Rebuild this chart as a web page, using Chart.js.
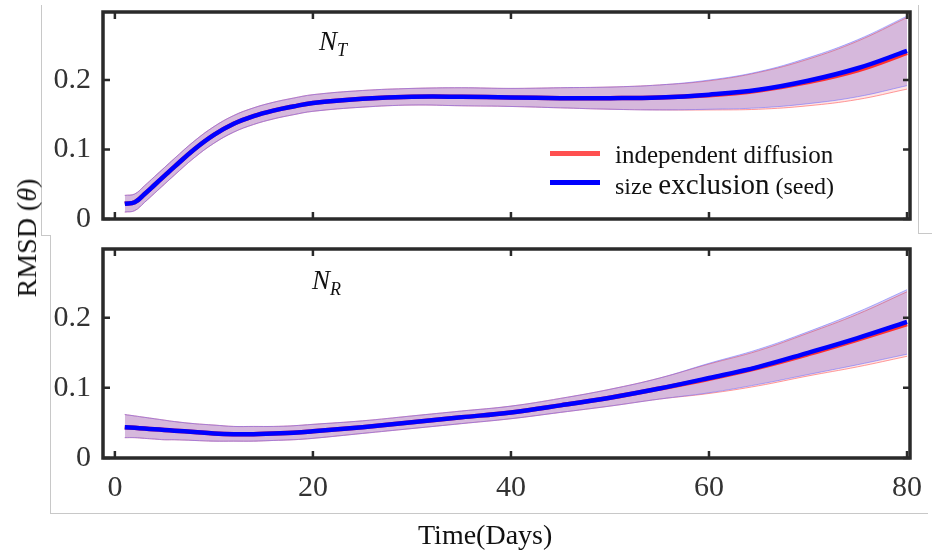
<!DOCTYPE html>
<html><head><meta charset="utf-8">
<script src="https://cdn.jsdelivr.net/npm/chart.js@4.4.1/dist/chart.umd.min.js"></script>
<style>
body{margin:0;background:#fff;width:932px;height:559px;overflow:hidden;position:relative;font-family:"Liberation Serif","Times New Roman",serif;color:#111;}
canvas{position:absolute;left:0;}
.gl{position:absolute;background:#c8c8c8;}
.txt{position:absolute;white-space:nowrap;}
.ann{position:absolute;font-style:italic;font-size:27px;line-height:27px;white-space:nowrap;}
.ann sub{font-size:18px;vertical-align:-6px;}
.sw{position:absolute;width:50px;height:5px;}
</style></head><body>
<div class="gl" style="left:41px;top:5px;width:1px;height:230px"></div>
<div class="gl" style="left:41px;top:235px;width:10px;height:1px"></div>
<div class="gl" style="left:50px;top:235px;width:1px;height:278px"></div>
<div class="gl" style="left:50px;top:513px;width:878px;height:1px"></div>
<div class="gl" style="left:918px;top:5px;width:1px;height:228px"></div>
<div class="gl" style="left:918px;top:233px;width:14px;height:1px"></div>

<canvas id="top" width="932" height="240" style="top:0"></canvas>
<canvas id="bot" width="932" height="300" style="top:230px"></canvas>

<div class="ann" style="left:319px;top:28px">N<sub>T</sub></div>
<div class="ann" style="left:312px;top:267px">N<sub>R</sub></div>

<div class="sw" style="left:550px;top:151px;background:#ff5050"></div>
<div class="sw" style="left:550px;top:180px;background:#0000ff"></div>
<div class="txt" style="left:615px;top:142px;font-size:25px;line-height:25px">independent diffusion</div>
<div class="txt" style="left:615px;top:170px;font-size:24px;line-height:29px">size <span style="font-size:29px">exclusion</span> (seed)</div>

<div class="txt" style="left:418px;top:521px;font-size:28px;line-height:28px">Time(Days)</div>
<div class="txt" style="left:27px;top:238px;font-size:28px;line-height:28px;transform:translate(-50%,-50%) rotate(-90deg);">RMSD (<i>θ</i>)</div>

<script>
const days = [1,2,3,4,5,6,8,10,12,14,16,18,20,25,30,35,40,45,50,55,60,65,70,75,80];
const xTicks = [0,20,40,60,80];
const yTicks = [0,0.1,0.2];

// N_T panel
const ntSizeMean  = [0.022,0.024,0.036,0.049,0.062,0.075,0.100,0.121,0.137,0.148,0.156,0.162,0.167,0.173,0.176,0.176,0.175,0.174,0.174,0.175,0.179,0.186,0.199,0.217,0.242];
const ntSizeUpper = [0.034,0.036,0.048,0.061,0.074,0.087,0.112,0.133,0.149,0.160,0.168,0.174,0.179,0.185,0.188,0.189,0.188,0.189,0.190,0.193,0.200,0.212,0.232,0.258,0.292];
const ntSizeLower = [0.010,0.012,0.024,0.037,0.050,0.063,0.088,0.109,0.125,0.136,0.144,0.150,0.155,0.161,0.164,0.163,0.162,0.160,0.158,0.157,0.158,0.160,0.166,0.176,0.192];
const ntIndMean   = [0.022,0.024,0.036,0.049,0.062,0.075,0.100,0.121,0.137,0.148,0.156,0.162,0.167,0.173,0.176,0.176,0.175,0.174,0.174,0.175,0.178,0.185,0.197,0.214,0.239];
const ntIndUpper  = [0.034,0.036,0.048,0.061,0.074,0.087,0.112,0.133,0.149,0.160,0.168,0.174,0.179,0.185,0.188,0.189,0.188,0.189,0.190,0.193,0.199,0.211,0.230,0.256,0.290];
const ntIndLower  = [0.010,0.012,0.024,0.037,0.050,0.063,0.088,0.109,0.125,0.136,0.144,0.150,0.155,0.161,0.164,0.163,0.162,0.160,0.158,0.157,0.157,0.158,0.163,0.172,0.187];

// N_R panel
const nrSizeMean  = [0.044,0.043,0.042,0.041,0.040,0.039,0.037,0.035,0.034,0.034,0.035,0.036,0.038,0.044,0.051,0.058,0.065,0.075,0.086,0.099,0.114,0.130,0.150,0.171,0.194];
const nrSizeUpper = [0.062,0.060,0.058,0.056,0.054,0.052,0.049,0.047,0.045,0.045,0.045,0.046,0.048,0.053,0.060,0.067,0.074,0.085,0.098,0.114,0.135,0.155,0.180,0.208,0.240];
const nrSizeLower = [0.029,0.029,0.028,0.027,0.026,0.026,0.025,0.024,0.024,0.024,0.025,0.026,0.028,0.035,0.042,0.049,0.056,0.065,0.074,0.084,0.093,0.105,0.119,0.133,0.148];
const nrIndMean   = [0.044,0.043,0.042,0.041,0.040,0.039,0.037,0.035,0.034,0.034,0.035,0.036,0.038,0.044,0.051,0.058,0.065,0.075,0.086,0.099,0.113,0.129,0.148,0.169,0.191];
const nrIndUpper  = [0.062,0.060,0.058,0.056,0.054,0.052,0.049,0.047,0.045,0.045,0.045,0.046,0.048,0.053,0.060,0.067,0.074,0.085,0.098,0.114,0.134,0.153,0.178,0.205,0.237];
const nrIndLower  = [0.029,0.029,0.028,0.027,0.026,0.026,0.025,0.024,0.024,0.024,0.025,0.026,0.028,0.035,0.042,0.049,0.056,0.065,0.074,0.084,0.092,0.103,0.117,0.130,0.145];

const pts = arr => arr.map((v,i)=>({x:days[i], y:v}));
const FONT = '"Liberation Serif","Times New Roman",serif';

const framePlugin = {
  id:'frame',
  afterDatasetsDraw(chart){
    const {ctx, chartArea:a, scales:{x,y}} = chart;
    ctx.save();
    ctx.strokeStyle = '#2a2a2a';
    ctx.lineWidth = 2.5;
    const L = 7;
    ctx.beginPath();
    xTicks.forEach(v=>{
      const px = x.getPixelForValue(v);
      ctx.moveTo(px, a.bottom); ctx.lineTo(px, a.bottom - L);
      ctx.moveTo(px, a.top); ctx.lineTo(px, a.top + L);
    });
    yTicks.forEach(v=>{
      const py = y.getPixelForValue(v);
      ctx.moveTo(a.left, py); ctx.lineTo(a.left + L, py);
      ctx.moveTo(a.right, py); ctx.lineTo(a.right - L, py);
    });
    ctx.stroke();
    ctx.lineWidth = 3.5;
    ctx.strokeRect(a.left, a.top, a.right - a.left, a.bottom - a.top);
    ctx.restore();
  }
};

function makeChart(id, d, showX, padTop, padBottom, xHeight) {
  const datasets = [
    {data:pts(d.sMean), borderColor:'#0000ff', borderWidth:4.5, order:0, fill:false},
    {data:pts(d.iMean), borderColor:'#ff3030', borderWidth:4.5, order:1, fill:false},
    {data:pts(d.iLow), borderColor:'rgba(255,110,110,0.7)', borderWidth:1, order:4, fill:false},
    {data:pts(d.iUp), borderColor:'rgba(255,110,110,0.7)', borderWidth:1, order:4, fill:'-1', backgroundColor:'rgba(255,80,80,0.15)'},
    {data:pts(d.sLow), borderColor:'rgba(110,110,255,0.55)', borderWidth:1, order:3, fill:false},
    {data:pts(d.sUp), borderColor:'rgba(110,110,255,0.55)', borderWidth:1, order:3, fill:'-1', backgroundColor:'rgba(120,80,200,0.30)'}
  ];
  return new Chart(document.getElementById(id), {
    type:'line',
    data:{datasets},
    options:{
      responsive:false, animation:false, devicePixelRatio:1,
      layout:{padding:{top:padTop, right:22, bottom:padBottom, left:0}},
      plugins:{legend:{display:false}, tooltip:{enabled:false}},
      elements:{point:{radius:0}, line:{tension:0.4}},
      scales:{
        x:{type:'linear', min:-1.2, max:80.3, display:showX,
           grid:{display:false, drawTicks:false}, border:{display:false},
           ticks:{font:{family:FONT, size:30}, color:'#333', padding:12, maxRotation:0, callback:v=>String(v)},
           afterBuildTicks:s=>{s.ticks = xTicks.map(v=>({value:v}));},
           afterFit:s=>{ if(xHeight) s.height = xHeight; s.paddingLeft=0; s.paddingRight=0; s.paddingTop=0; s.paddingBottom=0; }
        },
        y:{min:0, max:0.298,
           grid:{display:false, drawTicks:false}, border:{display:false},
           ticks:{font:{family:FONT, size:30}, color:'#333', padding:12, callback:v=>String(v)},
           afterBuildTicks:s=>{s.ticks = yTicks.map(v=>({value:v}));},
           afterFit:s=>{ s.width = 103; s.paddingLeft=0; s.paddingRight=0; s.paddingTop=0; s.paddingBottom=0; }
        }
      }
    },
    plugins:[framePlugin]
  });
}

makeChart('top', {sMean:ntSizeMean, sUp:ntSizeUpper, sLow:ntSizeLower, iMean:ntIndMean, iUp:ntIndUpper, iLow:ntIndLower}, false, 12, 21, 0);
makeChart('bot', {sMean:nrSizeMean, sUp:nrSizeUpper, sLow:nrSizeLower, iMean:nrIndMean, iUp:nrIndUpper, iLow:nrIndLower}, true, 19, 0, 72);
</script>
</body></html>
